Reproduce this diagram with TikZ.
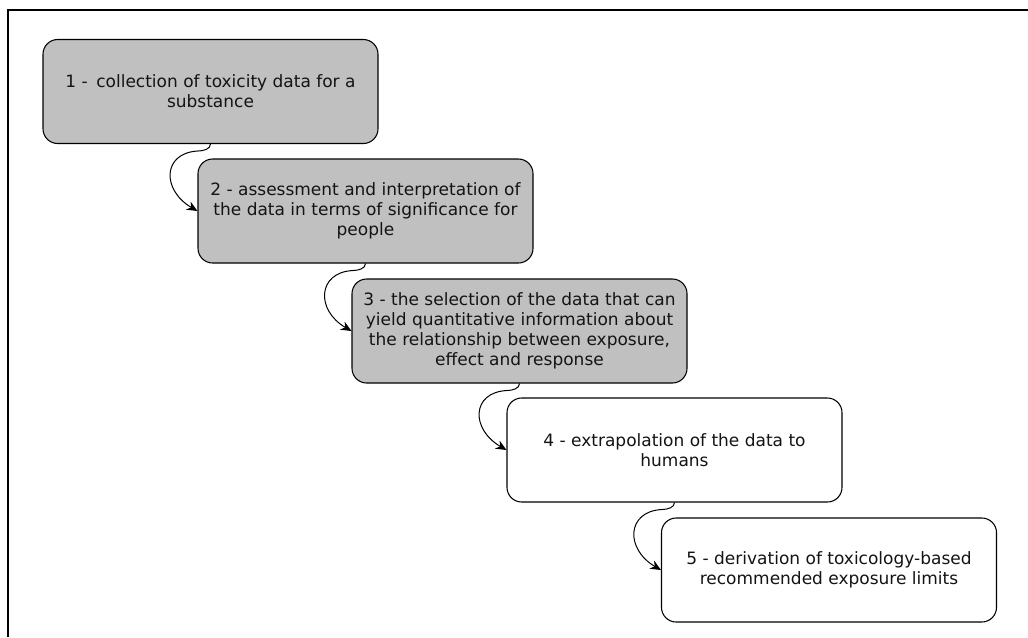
\documentclass[tikz,border=0pt]{standalone}
\usepackage{fontspec}
\setmainfont{DejaVu Sans}
\usetikzlibrary{arrows.meta,calc}
\definecolor{boxgray}{RGB}{192,192,192}
\definecolor{txt}{RGB}{20,20,20}
\tikzset{
  stepbox/.style={draw=black, line width=0.8pt, rounded corners=11pt,
    minimum width=251.25pt, minimum height=78pt, align=center,
    font=\fontsize{12.75}{15}\selectfont, text=txt, inner sep=2pt},
  grayfill/.style={fill=boxgray},
  whitefill/.style={fill=white},
  conn/.style={line width=0.75pt, -{Stealth[length=8pt,width=7pt]}},
  frame/.style={line width=1.5pt}
}
\newcommand{\curveconn}[2]{%
  \draw[conn] (#1.south) .. controls ($(#1.south)+(0,5)$) and ($(#1.south)+(-7,7)$) ..
    ($(#1.south)+(-13,7)$) .. controls ($(#1.south)+(-48,9)$) and ($(#2.west)+(-36,-21)$) .. (#2.west);}
\begin{document}
\begin{tikzpicture}[x=0.75pt,y=-0.75pt]
\useasboundingbox (0,0) rectangle (1028,637);
\coordinate (fbl) at (8,637);
\coordinate (ftl) at (8,9.5);
\coordinate (ftr) at (1028,9.5);
\draw[frame] (fbl) -- (ftl) -- (ftr);
\node[stepbox,grayfill] (b1) at (210.5,91.5) {1 -\hspace{0.5em}collection of toxicity data for a\\substance};
\node[stepbox,grayfill] (b2) at (365.5,211) {2 - assessment and interpretation of\\the data in terms of significance for\\people};
\node[stepbox,grayfill] (b3) at (519.5,331) {3 - the selection of the data that can\\yield quantitative information about\\the relationship between exposure,\\effect and response};
\node[stepbox,whitefill] (b4) at (674.5,450) {4 - extrapolation of the data to\\humans};
\node[stepbox,whitefill] (b5) at (829,570) {5 - derivation of toxicology-based\\recommended exposure limits};
\curveconn{b1}{b2}
\curveconn{b2}{b3}
\curveconn{b3}{b4}
\curveconn{b4}{b5}
\end{tikzpicture}
\end{document}
